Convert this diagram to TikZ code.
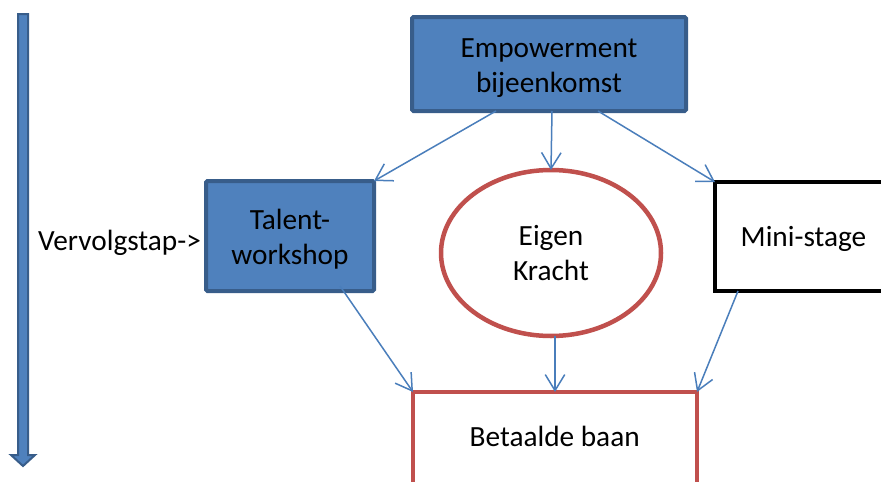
\documentclass[tikz,border=0pt]{standalone}
\usepackage{fontspec}
\setmainfont{Carlito}
\usetikzlibrary{arrows.meta,calc,shapes.geometric}
\definecolor{accFill}{HTML}{4F81BD}
\definecolor{accLine}{HTML}{385D8A}
\definecolor{connBlue}{HTML}{4A7EBB}
\definecolor{accRed}{HTML}{C0504D}
\tikzset{
  lbl/.style={font=\fontsize{29.3}{35}\selectfont, inner sep=0pt, align=center, text=black},
  shapebox/.style={rectangle, inner sep=0pt, outer sep=0pt, line width=4pt},
  bluebox/.style={shapebox, draw=accLine, fill=accFill, rounded corners=1.5pt},
  redbox/.style={shapebox, draw=accRed, fill=white},
  blackbox/.style={shapebox, draw=black, fill=white, line width=4.2pt},
  redoval/.style={ellipse, inner sep=0pt, outer sep=0pt, draw=accRed, fill=white, line width=4.5pt},
  conn/.style={draw=connBlue, line width=1.5pt,
    -{Straight Barb[length=16pt, width=19.5pt, line width=1.5pt]}},
}
\begin{document}
\begin{tikzpicture}[x=1pt, y=-1pt]
  \useasboundingbox (0,0) rectangle (881,482);
  \clip (0,0) rectangle (881,482);
  \fill[white] (0,0) rectangle (881,482);

  % time axis on the left
  \draw[accLine, fill=accFill, line width=2pt, line join=miter]
    (18,14) -- (28,14) -- (28,455) -- (35,455) -- (23,466) -- (11,455) -- (18,455) -- cycle;

  % boxes
  \node[bluebox, minimum width=274pt, minimum height=94pt] (emp) at (549,64) {};
  \node[bluebox, minimum width=168pt, minimum height=110pt] (talent) at (290,236) {};
  \node[redoval, minimum width=220pt, minimum height=166pt] (eig) at (551,253) {};
  \node[blackbox, minimum width=176pt, minimum height=109pt] (mini) at (803,236.5) {};
  \node[redbox, minimum width=284pt, minimum height=93pt] (betaal) at (555,438.5) {};

  % connectors
  \draw[conn] ($(emp.south)+(-53,0)$) -- (talent.north east);
  \draw[conn] ($(emp.south)+(3,0)$) -- (eig.north);
  \draw[conn] ($(emp.south)+(49,0)$) -- (mini.north west);
  \draw[conn] ($(talent.south)+(50,-5)$) -- (betaal.north west);
  \draw[conn] (eig.south -| betaal.north) -- (betaal.north);
  \draw[conn] ($(mini.south west)+(23,0)$) -- (betaal.north east);

  % texts
  \node[lbl] (empT) at (549,68.5) {Empowerment\\bijeenkomst};
  \node[lbl] (talT) at (290,238.7) {Talent-\\workshop};
  \node[lbl] (eigT) at (551,253) {Eigen\\Kracht};
  \node[lbl, anchor=base] (miniT) at (803.5,246.7) {Mini-stage};
  \node[lbl, anchor=base] (betT) at (554.7,446.7) {Betaalde baan};
  \node[lbl, anchor=base west] (vervT) at (38,250.7) {Vervolgstap->};
\end{tikzpicture}
\end{document}
